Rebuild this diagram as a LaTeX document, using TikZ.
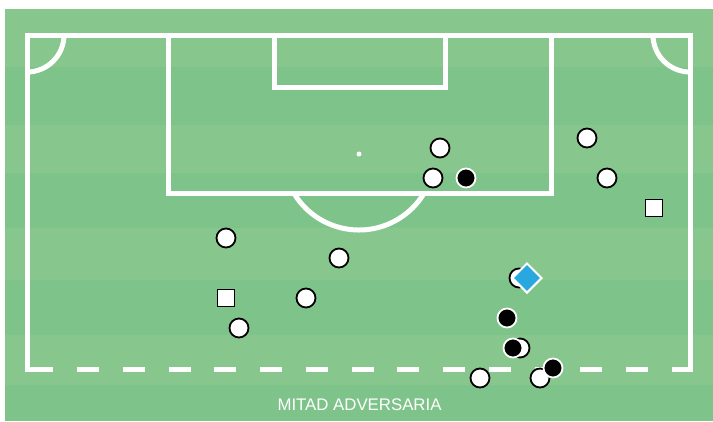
\documentclass[tikz,border=0pt]{standalone}
\usepackage{fontspec}
\setsansfont{Liberation Sans}
\usetikzlibrary{shapes.geometric}
\definecolor{grasslight}{HTML}{87C78D}
\definecolor{grassdark}{HTML}{7EC38A}
\definecolor{keeperblue}{HTML}{29A8E0}
\begin{document}
\begin{tikzpicture}[x=1pt,y=-1pt,
  pitch/.style={draw=white,line width=5,line join=miter},
  rival/.style={circle,draw=black,fill=white,line width=1.8,minimum size=19,inner sep=0},
  mate/.style={circle,draw=white,fill=black,line width=1.8,minimum size=19,inner sep=0},
  cone/.style={rectangle,draw=black,fill=white,line width=1.8,minimum size=17,inner sep=0},
  keeper/.style={diamond,draw=white,fill=keeperblue,line width=2,minimum size=30,inner sep=0}]
\useasboundingbox (0,0) rectangle (713,421);
% cesped
\fill[grasslight] (5,9) rectangle (713,421);
\fill[grassdark] (5,67) rectangle (713,125);
\fill[grassdark] (5,173) rectangle (713,228);
\fill[grassdark] (5,280) rectangle (713,335);
\fill[grassdark] (5,385) rectangle (713,421);
% lineas
\draw[pitch] (672,369) -- (690,369) -- (690,35) -- (27,35) -- (27,369) -- (53,369);
\foreach \i in {0,...,12}
  \draw[pitch] (77+45.77*\i,369) -- ++(22,0);
\draw[pitch] (168,35) rectangle (551,193);
\draw[pitch] (274,35) rectangle (445,87.5);
\draw[pitch] (64,35) arc[start angle=0,end angle=90,radius=37];
\draw[pitch] (653,35) arc[start angle=180,end angle=90,radius=37];
\draw[pitch] (359,154) ++(149.1:76) arc[start angle=149.1,end angle=30.9,radius=76];
\fill[white] (359,154) circle (2.5);
% jugadores
\node[rival] (r1) at (440,148) {};
\node[rival] (r2) at (433,178) {};
\node[mate]  (m1) at (466,178) {};
\node[rival] (r3) at (587,138) {};
\node[rival] (r4) at (607,178) {};
\node[cone]  (c1) at (654,208) {};
\node[rival] (r5) at (226,238) {};
\node[rival] (r6) at (339,258) {};
\node[cone]  (c2) at (226,298) {};
\node[rival] (r7) at (306,298) {};
\node[rival] (r8) at (239,328) {};
\node[rival] (r9) at (519,278) {};
\node[keeper] (k1) at (527,278) {};
\node[mate]  (m2) at (507,318) {};
\node[rival] (r10) at (520,348) {};
\node[mate]  (m3) at (513,348) {};
\node[rival] (r11) at (480,378) {};
\node[rival] (r12) at (540,378) {};
\node[mate]  (m4) at (553,368) {};
\node[text=white,font=\sffamily\fontsize{16.8}{17}\selectfont] (zona) at (359.5,405) {MITAD ADVERSARIA};
\end{tikzpicture}
\end{document}
